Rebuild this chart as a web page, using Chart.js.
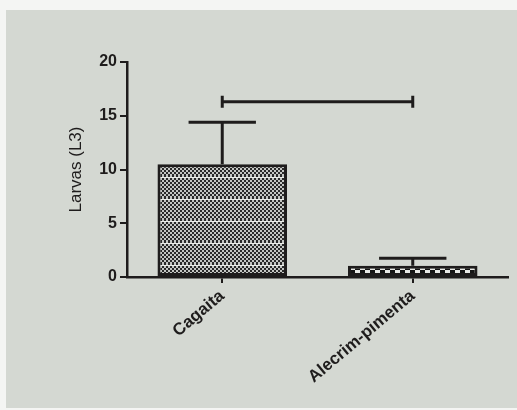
<!DOCTYPE html>
<html>
<head>
<meta charset="utf-8">
<script src="https://cdn.jsdelivr.net/npm/chart.js@4"></script>
<style>
  html, body { margin: 0; padding: 0; background: #f4f5f3; }
  #wrap { width: 517px; height: 410px; }
</style>
</head>
<body>
<div id="wrap"><canvas id="chart" width="517" height="410"></canvas></div>
<script>
// values
const categories = ['Cagaita', 'Alecrim-pimenta'];
const larvae = [10.5, 1.05];
const errorTop = [14.4, 1.75];
const bracketValue = 16.3;
const yTicks = [0, 5, 10, 15, 20];

const ink = '#1e1c1c';
const font = 'Liberation Sans, Arial, sans-serif';

// checker fill, like the printed hatch; optional light stripe (photo moire)
function checker(cell, dark, light, stripeEvery) {
    const c = document.createElement('canvas');
    c.width = cell * 2;
    c.height = stripeEvery || cell * 2;
    const g = c.getContext('2d');
    g.fillStyle = light;
    g.fillRect(0, 0, c.width, c.height);
    g.fillStyle = dark;
    for (let yy = 0; yy < c.height; yy += cell) {
        const shift = (yy / cell) % 2 ? cell : 0;
        g.fillRect(shift, yy, cell, cell);
    }
    if (stripeEvery) {
        g.fillStyle = '#eceeea';
        g.fillRect(0, 1, c.width, 1);
    }
    return g.createPattern(c, 'repeat');
}

const ctx = document.getElementById('chart').getContext('2d');
const fills = [checker(2, '#2a2a2a', '#c4c6c3', 22), checker(5, '#151515', '#e8e9e6')];

// photo background with the white margin top/left
const background = {
    id: 'background',
    beforeDraw(chart) {
        const c = chart.ctx;
        c.save();
        c.fillStyle = '#f4f5f3';
        c.fillRect(0, 0, chart.width, chart.height);
        c.fillStyle = '#d4d8d2';
        c.fillRect(6, 10, chart.width - 6, chart.height - 12);
        c.restore();
    }
};

// upper error bars plus the comparison bracket
const errorBars = {
    id: 'errorBars',
    afterDatasetsDraw(chart) {
        const c = chart.ctx;
        const x = chart.scales.x;
        const y = chart.scales.y;
        const meta = chart.getDatasetMeta(0);
        c.save();
        c.strokeStyle = ink;
        c.lineWidth = 3;
        meta.data.forEach((bar, i) => {
            const cx = bar.x;
            const half = bar.width * 0.26;
            const yTop = y.getPixelForValue(errorTop[i]);
            c.beginPath();
            c.moveTo(cx, bar.y);
            c.lineTo(cx, yTop);
            c.moveTo(cx - half, yTop);
            c.lineTo(cx + half, yTop);
            c.stroke();
        });
        const yb = y.getPixelForValue(bracketValue);
        const x1 = x.getPixelForValue(0);
        const x2 = x.getPixelForValue(1);
        c.beginPath();
        c.moveTo(x1, yb);
        c.lineTo(x2, yb);
        c.moveTo(x1, yb - 6);
        c.lineTo(x1, yb + 6);
        c.moveTo(x2, yb - 6);
        c.lineTo(x2, yb + 6);
        c.stroke();
        c.restore();
    }
};

new Chart(ctx, {
    type: 'bar',
    data: {
        labels: categories,
        datasets: [{
            data: larvae,
            backgroundColor: fills,
            borderColor: ink,
            borderWidth: 3,
            borderSkipped: false,
            barPercentage: 0.68,
            categoryPercentage: 1
        }]
    },
    options: {
        responsive: false,
        animation: false,
        layout: { padding: { left: 62, top: 62, right: 9, bottom: 0 } },
        plugins: {
            legend: { display: false },
            tooltip: { enabled: false }
        },
        scales: {
            x: {
                afterFit: (s) => { s.height = 133; },
                border: { display: true, color: ink, width: 2.5 },
                grid: { drawOnChartArea: false, offset: false, tickLength: 6, color: ink, lineWidth: 2 },
                ticks: {
                    minRotation: 40,
                    maxRotation: 40,
                    padding: 3,
                    color: ink,
                    font: { family: font, size: 17, weight: 'bold' }
                }
            },
            y: {
                min: 0,
                max: 20,
                afterFit: (s) => { s.width = 65; },
                afterBuildTicks: (s) => { s.ticks = yTicks.map(v => ({ value: v })); },
                border: { display: true, color: ink, width: 2.5 },
                grid: { drawOnChartArea: false, tickLength: 7, color: ink, lineWidth: 2 },
                ticks: {
                    padding: 3,
                    color: ink,
                    font: { family: font, size: 16, weight: 'bold' }
                },
                title: {
                    display: true,
                    text: 'Larvas (L3)',
                    color: ink,
                    font: { family: font, size: 17 }
                }
            }
        }
    },
    plugins: [background, errorBars]
});
</script>
</body>
</html>
